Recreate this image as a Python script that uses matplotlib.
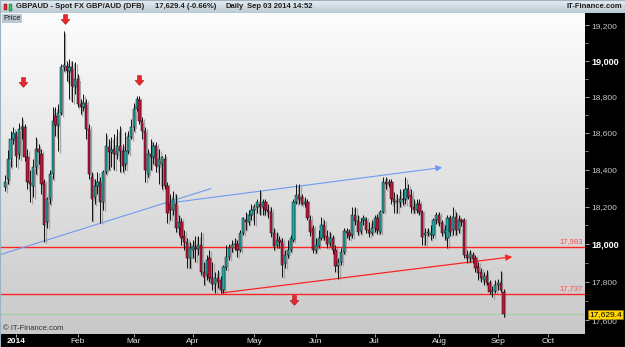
import numpy as np
import matplotlib
matplotlib.use('Agg')
import matplotlib.pyplot as plt
from matplotlib.path import Path
from matplotlib import transforms
from matplotlib.patches import Rectangle
from matplotlib.colors import LinearSegmentedColormap
from matplotlib.ticker import FixedLocator, FixedFormatter, NullFormatter

plt.rcParams['font.family'] = ['Liberation Sans', 'DejaVu Sans']

# ---------------- data (GBPAUD daily, x 10000) ----------------
opens = [
    18303, 18346, 18455, 18565, 18593, 18483, 18620, 18631, 18466, 18335,
    18313, 18411, 18510, 18483, 18330, 18119, 18238, 18373, 18692, 18642,
    18708, 18964, 18970, 18942, 18964, 18858, 18897, 18758, 18741, 18763,
    18620, 18357, 18249, 18313, 18335, 18227, 18389, 18521, 18494, 18510,
    18483, 18527, 18499, 18428, 18499, 18576, 18631, 18730, 18780, 18664,
    18609, 18373, 18483, 18466, 18527, 18417, 18428, 18455, 18308, 18211,
    18184, 18211, 18087, 18119, 18044, 18012, 17927, 17970, 17986, 17975,
    17996, 17853, 17837, 17927, 17821, 17790, 17821, 17811, 17758, 17879,
    17932, 17980, 17996, 18002, 17970, 18060, 18130, 18119, 18157, 18184,
    18200, 18211, 18195, 18222, 18184, 18173, 18060, 17996, 18023, 18012,
    17900, 17943, 17970, 18023, 18222, 18260, 18249, 18216, 18222, 18130,
    18087, 17970, 17991, 18034, 18103, 18044, 18007, 18034, 17970, 17885,
    17906, 17959, 18071, 18060, 18050, 18157, 18124, 18071, 18130, 18130,
    18076, 18060, 18087, 18141, 18065, 18173, 18335, 18319, 18330, 18238,
    18222, 18227, 18243, 18238, 18292, 18260, 18195, 18184, 18216, 18173,
    18050, 18060, 18050, 18050, 18130, 18157, 18114, 18060, 18034, 18141,
    18076, 18146, 18076, 18130, 18130, 17943, 17927, 17943, 17927, 17885,
    17853, 17811, 17832, 17795, 17753, 17753, 17784, 17795, 17748,
]
closes = [
    18335, 18455, 18565, 18598, 18472, 18620, 18631, 18466, 18335, 18319,
    18411, 18510, 18494, 18319, 18103, 18238, 18373, 18664, 18642, 18708,
    18964, 18975, 18942, 18964, 18858, 18897, 18758, 18741, 18763, 18620,
    18373, 18238, 18313, 18335, 18227, 18389, 18527, 18494, 18505, 18483,
    18527, 18499, 18417, 18499, 18576, 18631, 18730, 18786, 18664, 18609,
    18400, 18483, 18466, 18527, 18417, 18455, 18466, 18308, 18168, 18184,
    18238, 18087, 18119, 18034, 18012, 17927, 17980, 17991, 17975, 17996,
    17853, 17826, 17916, 17821, 17790, 17821, 17800, 17758, 17879, 17932,
    17980, 17996, 18002, 17970, 18060, 18141, 18119, 18157, 18184, 18200,
    18222, 18195, 18222, 18184, 18173, 18060, 17991, 18023, 18012, 17890,
    17943, 17970, 18034, 18222, 18260, 18238, 18216, 18227, 18141, 18065,
    17970, 17996, 18034, 18103, 18039, 18002, 18034, 17970, 17885, 17906,
    17959, 18071, 18060, 18044, 18152, 18124, 18065, 18119, 18141, 18076,
    18060, 18087, 18141, 18076, 18173, 18335, 18319, 18330, 18238, 18222,
    18227, 18243, 18233, 18292, 18254, 18195, 18184, 18211, 18173, 18039,
    18060, 18065, 18060, 18130, 18157, 18114, 18060, 18076, 18141, 18065,
    18146, 18076, 18130, 18119, 17943, 17927, 17948, 17922, 17874, 17848,
    17821, 17832, 17795, 17748, 17758, 17784, 17795, 17758, 17629.4,
]
highs = [
    18368, 18505, 18609, 18631, 18609, 18653, 18686, 18648, 18510, 18400,
    18455, 18576, 18538, 18510, 18346, 18249, 18400, 18741, 18741, 18758,
    18981, 19168, 18998, 19009, 18998, 18992, 18925, 18786, 18813, 18786,
    18648, 18389, 18346, 18389, 18357, 18400, 18598, 18565, 18576, 18593,
    18620, 18637, 18538, 18604, 18609, 18675, 18763, 18802, 18802, 18686,
    18631, 18510, 18565, 18549, 18549, 18510, 18472, 18483, 18330, 18265,
    18281, 18265, 18157, 18141, 18076, 18034, 18012, 18023, 18044, 18044,
    18065, 17906, 17943, 17970, 17906, 17853, 17864, 17832, 17890, 17996,
    18002, 18023, 18034, 18023, 18076, 18146, 18173, 18184, 18211, 18211,
    18238, 18287, 18238, 18238, 18211, 18195, 18087, 18065, 18044, 18034,
    17970, 18023, 18050, 18238, 18319, 18319, 18265, 18249, 18238, 18157,
    18103, 18034, 18076, 18146, 18130, 18076, 18065, 18050, 17996, 17927,
    17980, 18087, 18087, 18081, 18200, 18200, 18157, 18141, 18157, 18146,
    18119, 18130, 18157, 18162, 18184, 18357, 18362, 18346, 18346, 18276,
    18265, 18292, 18292, 18357, 18319, 18292, 18238, 18238, 18238, 18184,
    18087, 18087, 18103, 18141, 18173, 18173, 18130, 18103, 18157, 18157,
    18195, 18173, 18157, 18141, 18141, 17970, 17970, 17959, 17943, 17906,
    17874, 17853, 17864, 17811, 17779, 17811, 17816, 17858, 17763,
]
lows = [
    18281, 18324, 18411, 18538, 18411, 18455, 18565, 18444, 18292, 18222,
    18249, 18373, 18428, 18265, 18012, 18087, 18211, 18346, 18582, 18499,
    18697, 18942, 18886, 18786, 18769, 18813, 18741, 18703, 18719, 18565,
    18346, 18124, 18211, 18265, 18114, 18184, 18373, 18400, 18411, 18400,
    18455, 18389, 18384, 18400, 18483, 18565, 18609, 18719, 18648, 18565,
    18335, 18357, 18400, 18428, 18389, 18319, 18292, 18292, 18114, 18130,
    18157, 18065, 18050, 17996, 17970, 17874, 17874, 17927, 17906, 17943,
    17837, 17784, 17811, 17800, 17758, 17742, 17768, 17742, 17742, 17864,
    17916, 17959, 17970, 17932, 17959, 18050, 18076, 18103, 18130, 18103,
    18168, 18157, 18157, 18157, 18141, 18039, 17970, 17980, 17980, 17826,
    17874, 17927, 17959, 18012, 18211, 18211, 18206, 18200, 18130, 18044,
    17954, 17954, 17980, 18023, 18023, 17980, 17991, 17948, 17853, 17816,
    17890, 17948, 18034, 18023, 18034, 18103, 18050, 18055, 18103, 18060,
    18039, 18050, 18065, 18055, 18055, 18168, 18292, 18303, 18211, 18168,
    18168, 18200, 18206, 18211, 18238, 18168, 18168, 18168, 18157, 17996,
    17996, 18044, 18023, 18034, 18108, 18097, 18044, 18023, 17980, 18044,
    18050, 18050, 18060, 18097, 17927, 17900, 17906, 17900, 17853, 17811,
    17800, 17784, 17784, 17737, 17721, 17742, 17758, 17748, 17617,
]

month_labels = ['2014', 'Feb', 'Mar', 'Apr', 'May', 'Jun', 'Jul', 'Aug', 'Sep', 'Oct']
month_pos = [4, 26, 46, 67, 89, 111, 132, 155, 176, 194]
ytick_values = [17600, 17800, 18000, 18200, 18400, 18600, 18800, 19000, 19200]
yminor_values = [17700, 17900, 18100, 18300, 18500, 18700, 18900, 19100]
support_levels = [17983, 17737]
last_price = 17629.4

blue_line1_x = [-1.8, 73.6]
blue_line1_y = [17943, 18297]
blue_line2_x = [57.1, 156.1]
blue_line2_y = [18216, 18411]
red_trend_x = [77.5, 181.1]
red_trend_y = [17742, 17932]
signal_x = [6.4, 21.4, 47.9, 103.2]
signal_y = [18880, 19236, 18891, 17706]

# ---------------- figure ----------------
W, H = 625, 347
fig = plt.figure(figsize=(W / 100, H / 100), dpi=100, facecolor='black')


def fx(px):
    return px / W


def fy(py):
    return 1 - py / H


grad = np.linspace(0, 1, 64).reshape(-1, 1)

# header bar
hax = fig.add_axes([0, fy(13), 1, 13 / H])
hax.imshow(grad, aspect='auto', extent=[0, 1, 0, 1],
           cmap=LinearSegmentedColormap.from_list('h', ['#e8eff4', '#b9c9d4']))
hax.set_axis_off()

# plot area
PL, PR, PT, PB = 0, 585, 13, 334
pos = [fx(PL), fy(PB), fx(PR) - fx(PL), (PB - PT) / H]
bax = fig.add_axes(pos)
bax.imshow(grad, aspect='auto', extent=[0, 1, 0, 1],
           cmap=LinearSegmentedColormap.from_list('b', ['#fcfcfc', '#c9c9c9']))
bax.set_axis_off()

ax = fig.add_axes(pos)
ax.set_facecolor('none')
ax.set_yscale('log')
ax.set_ylim(17528, 19270)
ax.set_xlim(-1.79, 207.1)

o = np.array(opens, float)
c = np.array(closes, float)
h = np.array(highs, float)
l = np.array(lows, float)
x = np.arange(len(c))
up = c >= o
bottoms = np.minimum(o, c)
tops = np.maximum(o, c)
heights = np.maximum(tops - bottoms, bottoms * 0.0003)

# drop shadows
sh = transforms.offset_copy(ax.transData, fig=fig, x=1.6, y=-1.6, units='dots')
ax.vlines(x, l, h, color='#a4a4a4', lw=0.9, transform=sh, zorder=1)
ax.bar(x, heights, bottom=bottoms, width=0.8, color='#a4a4a4', transform=sh, zorder=1)

# reference lines
for lvl in support_levels:
    ax.axhline(lvl, color='#ff2424', lw=1.0, zorder=2)
    ax.text(0.996, lvl * 1.0006, f'{lvl:,}', transform=transforms.blended_transform_factory(ax.transAxes, ax.transData),
            ha='right', va='bottom', color='#ff4a4a', fontsize=5.5, zorder=7)
ax.axhline(last_price, color='#94d394', lw=0.6, zorder=2)

# trend lines
ax.plot(blue_line1_x, blue_line1_y, color='#6e9bf0', lw=0.8, zorder=2, solid_capstyle='butt')
ax.annotate('', xy=(blue_line2_x[1], blue_line2_y[1]), xytext=(blue_line2_x[0], blue_line2_y[0]),
            arrowprops=dict(arrowstyle='-|>', color='#6e9bf0', lw=0.8, mutation_scale=9, shrinkA=0, shrinkB=0),
            zorder=2)
ax.annotate('', xy=(red_trend_x[1], red_trend_y[1]), xytext=(red_trend_x[0], red_trend_y[0]),
            arrowprops=dict(arrowstyle='-|>', color='#ff2424', lw=0.9, mutation_scale=9, shrinkA=0, shrinkB=0),
            zorder=2)

# candles
ax.vlines(x, l, h, color='#101010', lw=0.7, zorder=3)
ax.bar(x, heights, bottom=bottoms, width=0.8,
       color=np.where(up, '#1fa9a9', '#c0143c'), edgecolor='#101010', linewidth=0.35, zorder=4)

# signal arrows
arrow_path = Path([(-0.2, 0.5), (0.2, 0.5), (0.2, 0.0), (0.45, 0.0), (0.0, -0.5),
                   (-0.45, 0.0), (-0.2, 0.0), (-0.2, 0.5)],
                  [Path.MOVETO] + [Path.LINETO] * 6 + [Path.CLOSEPOLY])
ax.plot(signal_x, signal_y, ls='none', marker=arrow_path, ms=7, mfc='#e8262b', mec='#a81414',
        mew=0.4, zorder=6, clip_on=False)

# axes styling
for s in ax.spines.values():
    s.set_visible(False)
ax.yaxis.tick_right()
ax.yaxis.set_major_locator(FixedLocator(ytick_values))
ax.yaxis.set_major_formatter(FixedFormatter([f'{v:,}' for v in ytick_values]))
ax.yaxis.set_minor_locator(FixedLocator(yminor_values))
ax.yaxis.set_minor_formatter(NullFormatter())
ax.tick_params(axis='y', which='both', direction='out', color='#bdbdbd', labelcolor='#c8c8c8',
               labelsize=6, pad=1.5)
ax.tick_params(axis='y', which='major', length=3, width=0.6)
ax.tick_params(axis='y', which='minor', length=2, width=0.5)
for lbl in ax.get_yticklabels():
    if lbl.get_text() in ('18,000', '19,000'):
        lbl.set_fontweight('bold')
        lbl.set_color('white')
        lbl.set_fontsize(6.5)

ax.set_xticks(month_pos)
ax.set_xticklabels(month_labels)
ax.tick_params(axis='x', direction='out', length=2, width=0.6, color='#d0d0d0', labelcolor='#e6e6e6',
               labelsize=6, pad=1)
for lbl in ax.get_xticklabels():
    if lbl.get_text() == '2014':
        lbl.set_fontweight('bold')
        lbl.set_color('white')

# last price tag
ax.text(1.0 + 4 / 585, last_price, f'{last_price:,.1f}',
        transform=transforms.blended_transform_factory(ax.transAxes, ax.transData),
        ha='left', va='center', fontsize=6, color='black', zorder=10, clip_on=False,
        bbox=dict(boxstyle='square,pad=0.15', fc='#ffd500', ec='#a08a00', lw=0.4))

# header texts
fig.text(fx(16), fy(6.8), 'GBPAUD - Spot FX GBP/AUD (DFB)', fontsize=5.5, weight='bold',
         va='center', color='#1c1c1c')
fig.text(fx(155), fy(6.8), '17,629.4 (-0.66%)', fontsize=5.5, weight='bold', va='center', color='#1c1c1c')
fig.text(fx(225), fy(6.8), 'Daily', fontsize=5.5, weight='bold', va='center', color='#1c1c1c')
fig.text(fx(247), fy(6.8), 'Sep 03 2014 14:52', fontsize=5.5, weight='bold', va='center', color='#1c1c1c')
fig.text(fx(622), fy(6.8), 'IT-Finance.com', fontsize=5.5, weight='bold', va='center', ha='right',
         color='#1c1c1c')
# header icon
fig.add_artist(Rectangle((fx(4), fy(10)), 3 / W, 6 / H, transform=fig.transFigure, fc='#d8262b', ec='#601010', lw=0.3))
fig.add_artist(Rectangle((fx(9), fy(11)), 3 / W, 7 / H, transform=fig.transFigure, fc='#2ac060', ec='#106030', lw=0.3))

fig.text(fx(3), fy(18.5), 'Price', fontsize=5.5, va='center', color='#202020',
         bbox=dict(boxstyle='square,pad=0.15', fc='#b9c8d1', ec='none'))
fig.text(fx(3), fy(329), '\u00a9 IT-Finance.com', fontsize=5.5, va='center', color='#303030')

fig.add_artist(Rectangle((0, 0), 1, 1, transform=fig.transFigure, fill=False, ec='#9fb2bf', lw=0.8))

fig.savefig('out.png', dpi=100, facecolor=fig.get_facecolor())
